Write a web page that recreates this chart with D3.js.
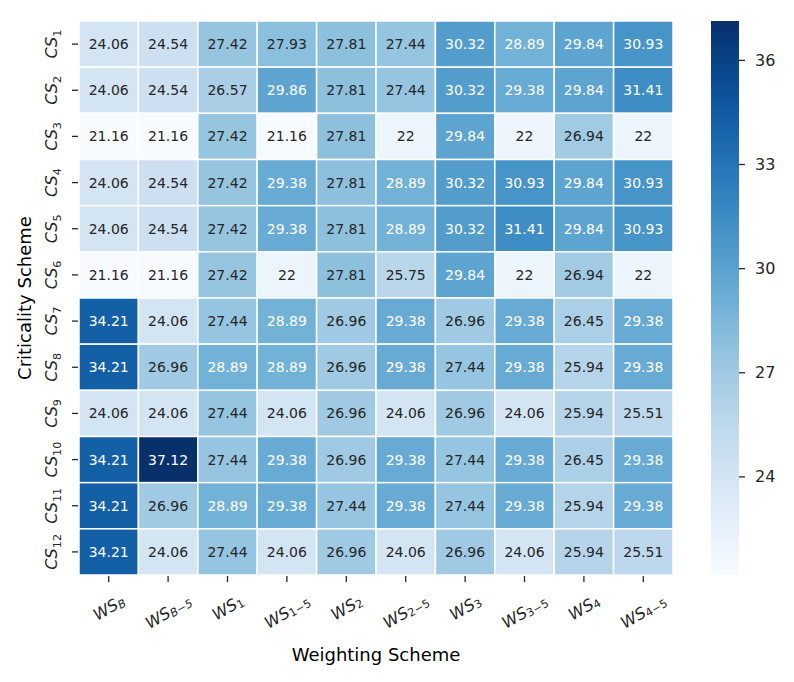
<!DOCTYPE html>
<html>
<head>
<meta charset="utf-8">
<script src="https://cdn.jsdelivr.net/npm/d3@7"></script>
<style>
  body { margin: 0; background: #fff; }
  text { font-family: "DejaVu Sans", sans-serif; }
</style>
</head>
<body>
<div id="chart-area"></div>
<script>

// Data
var rowNames = ["1", "2", "3", "4", "5", "6", "7", "8", "9", "10", "11", "12"];
var colNames = ["B", "B\u22125", "1", "1\u22125", "2", "2\u22125", "3", "3\u22125", "4", "4\u22125"];

var cs1  = [24.06, 24.54, 27.42, 27.93, 27.81, 27.44, 30.32, 28.89, 29.84, 30.93];
var cs2  = [24.06, 24.54, 26.57, 29.86, 27.81, 27.44, 30.32, 29.38, 29.84, 31.41];
var cs3  = [21.16, 21.16, 27.42, 21.16, 27.81, 22, 29.84, 22, 26.94, 22];
var cs4  = [24.06, 24.54, 27.42, 29.38, 27.81, 28.89, 30.32, 30.93, 29.84, 30.93];
var cs5  = [24.06, 24.54, 27.42, 29.38, 27.81, 28.89, 30.32, 31.41, 29.84, 30.93];
var cs6  = [21.16, 21.16, 27.42, 22, 27.81, 25.75, 29.84, 22, 26.94, 22];
var cs7  = [34.21, 24.06, 27.44, 28.89, 26.96, 29.38, 26.96, 29.38, 26.45, 29.38];
var cs8  = [34.21, 26.96, 28.89, 28.89, 26.96, 29.38, 27.44, 29.38, 25.94, 29.38];
var cs9  = [24.06, 24.06, 27.44, 24.06, 26.96, 24.06, 26.96, 24.06, 25.94, 25.51];
var cs10 = [34.21, 37.12, 27.44, 29.38, 26.96, 29.38, 27.44, 29.38, 26.45, 29.38];
var cs11 = [34.21, 26.96, 28.89, 29.38, 27.44, 29.38, 27.44, 29.38, 25.94, 29.38];
var cs12 = [34.21, 24.06, 27.44, 24.06, 26.96, 24.06, 26.96, 24.06, 25.94, 25.51];

var colorTicks = [24, 27, 30, 33, 36];

var values = [cs1, cs2, cs3, cs4, cs5, cs6, cs7, cs8, cs9, cs10, cs11, cs12];

// flatten into cells
var cells = [];
values.forEach(function(row, i) {
  row.forEach(function(v, j) {
    cells.push({row: rowNames[i], col: colNames[j], value: v});
  });
});

// SVG drawing area
var margin = {top: 21, left: 79};
var width = 594, height = 554;

var svg = d3.select("#chart-area").append("svg")
    .attr("width", 794)
    .attr("height", 682);

var g = svg.append("g")
    .attr("transform", "translate(" + margin.left + "," + margin.top + ")");

// Scales
var x = d3.scaleBand().domain(colNames).range([0, width]);
var y = d3.scaleBand().domain(rowNames).range([0, height]);

var vmin = d3.min(cells, function(d) { return d.value; });
var vmax = d3.max(cells, function(d) { return d.value; });

var color = d3.scaleSequential(d3.interpolateBlues).domain([vmin, vmax]);

// seaborn-like text colour from luminance
function lum(c) {
  var rgb = d3.rgb(c);
  var ch = [rgb.r, rgb.g, rgb.b].map(function(v) {
    v = v / 255;
    return v <= 0.03928 ? v / 12.92 : Math.pow((v + 0.055) / 1.055, 2.4);
  });
  return 0.2126 * ch[0] + 0.7152 * ch[1] + 0.0722 * ch[2];
}

// Cells
g.selectAll("rect.cell")
    .data(cells)
  .enter().append("rect")
    .attr("class", "cell")
    .attr("x", function(d) { return x(d.col); })
    .attr("y", function(d) { return y(d.row); })
    .attr("width", x.bandwidth())
    .attr("height", y.bandwidth())
    .attr("fill", function(d) { return color(d.value); })
    .attr("stroke", "#fff")
    .attr("stroke-width", 1.5);

g.selectAll("text.annot")
    .data(cells)
  .enter().append("text")
    .attr("class", "annot")
    .attr("x", function(d) { return x(d.col) + x.bandwidth() / 2; })
    .attr("y", function(d) { return y(d.row) + y.bandwidth() / 2; })
    .attr("text-anchor", "middle")
    .attr("dominant-baseline", "central")
    .attr("font-size", 14)
    .attr("fill", function(d) { return lum(color(d.value)) > 0.408 ? "#262626" : "#fff"; })
    .text(function(d) { return String(+d.value.toFixed(2)); });

// Axes (ticks only, labels drawn by hand for subscripts)
var xAxis = d3.axisBottom(x).tickSize(6).tickFormat("");
var yAxis = d3.axisLeft(y).tickSize(6).tickFormat("");

var xg = g.append("g").attr("transform", "translate(0," + (height + 1) + ")").call(xAxis);
var yg = g.append("g").attr("transform", "translate(-1,0)").call(yAxis);
[xg, yg].forEach(function(a) {
  a.select(".domain").remove();
  a.selectAll(".tick line").attr("stroke", "#262626").attr("stroke-width", 1.3);
});

// subscript label helper
function mathLabel(sel, main, sub, size) {
  sel.append("tspan").attr("font-style", "italic").text(main);
  sel.append("tspan")
      .attr("font-size", size * 0.7)
      .attr("dy", size * 0.22)
      .attr("font-style", /[A-Z]/.test(sub) ? "italic" : "normal")
      .text(sub);
}

// y tick labels (vertical)
rowNames.forEach(function(r) {
  var t = g.append("text")
      .attr("transform", "translate(-22," + (y(r) + y.bandwidth() / 2) + ") rotate(-90)")
      .attr("text-anchor", "middle")
      .attr("font-size", 16)
      .attr("fill", "#262626");
  mathLabel(t, "CS", r, 16);
});

// x tick labels (rotated 30deg, top aligned)
colNames.forEach(function(c) {
  var t = g.append("text")
      .attr("text-anchor", "middle")
      .attr("dominant-baseline", "central")
      .attr("font-size", 16)
      .attr("fill", "#262626");
  mathLabel(t, "WS", c, 16);
  var w = t.node().getComputedTextLength();
  var h = 16;
  var a = 30 * Math.PI / 180;
  var hr = w * Math.sin(a) + h * Math.cos(a);
  var cy = height + 17 + hr / 2;
  t.attr("transform", "translate(" + (x(c) + x.bandwidth() / 2) + "," + cy + ") rotate(-30)");
});

// Axis titles
svg.append("text")
    .attr("x", margin.left + width / 2)
    .attr("y", 661)
    .attr("text-anchor", "middle")
    .attr("font-size", 18)
    .attr("fill", "#000")
    .text("Weighting Scheme");

svg.append("text")
    .attr("transform", "translate(31," + (margin.top + height / 2) + ") rotate(-90)")
    .attr("text-anchor", "middle")
    .attr("font-size", 18)
    .attr("fill", "#000")
    .text("Criticality Scheme");

// Colorbar
var cb = {x: 711, w: 28};
var cy = d3.scaleLinear().domain([vmin, vmax]).range([margin.top + height, margin.top]);

var defs = svg.append("defs");
var grad = defs.append("linearGradient")
    .attr("id", "cbar")
    .attr("x1", 0).attr("y1", 1).attr("x2", 0).attr("y2", 0);
d3.range(0, 1.0001, 0.05).forEach(function(t) {
  grad.append("stop")
      .attr("offset", t)
      .attr("stop-color", color(vmin + t * (vmax - vmin)));
});

svg.append("rect")
    .attr("x", cb.x)
    .attr("y", margin.top)
    .attr("width", cb.w)
    .attr("height", height)
    .attr("fill", "url(#cbar)");

var cAxis = d3.axisRight(cy).tickValues(colorTicks).tickSize(6).tickPadding(10);
var cg = svg.append("g")
    .attr("transform", "translate(" + (cb.x + cb.w) + ",0)")
    .call(cAxis);
cg.select(".domain").remove();
cg.selectAll(".tick line").attr("stroke", "#262626").attr("stroke-width", 1.3);
cg.selectAll(".tick text")
    .attr("font-size", 16)
    .attr("font-family", "DejaVu Sans")
    .attr("fill", "#262626");

</script>
</body>
</html>
